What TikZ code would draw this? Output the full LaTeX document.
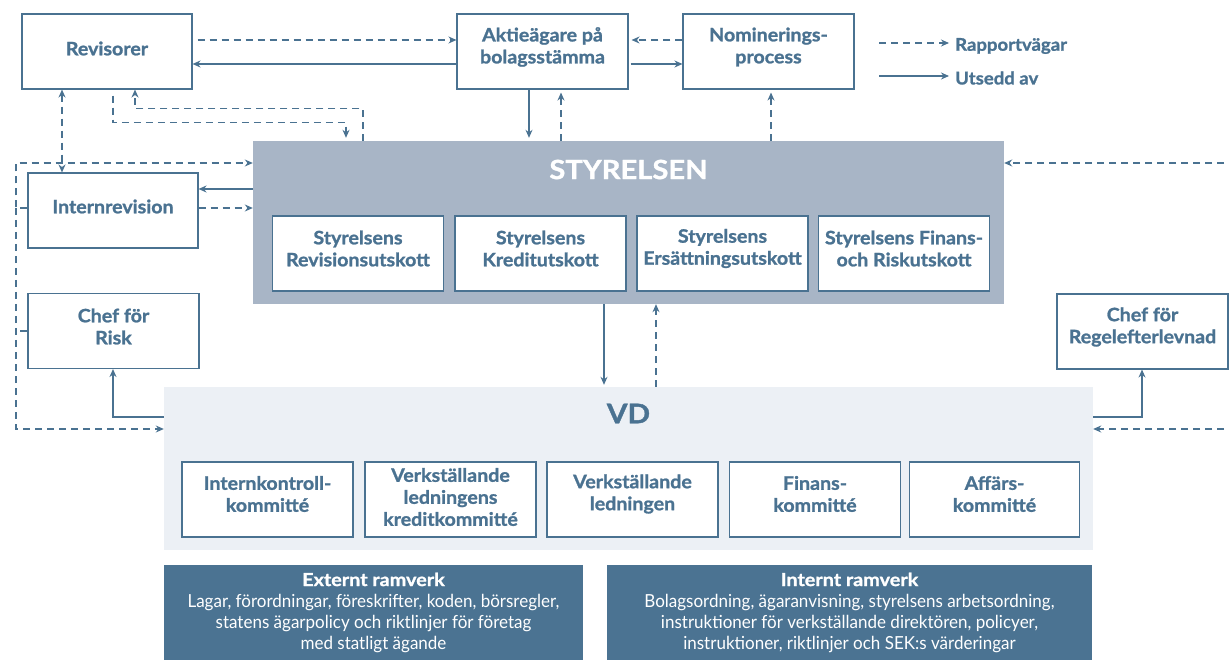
\documentclass[tikz,border=0pt]{standalone}
\usepackage{fontspec}
\setmainfont{Lato}[BoldFeatures={FakeBold=1.2}]
\newfontfamily\widefont{Lato}[FakeStretch=1.06, BoldFeatures={FakeBold=1.2}]
\newfontfamily\titlefont{Lato}[FakeStretch=1.1, BoldFeatures={FakeBold=1.2}]
\newfontfamily\narrowfont{Lato}[FakeStretch=0.945]
\usetikzlibrary{arrows.meta}

\definecolor{ink}{HTML}{4A7291}
\definecolor{boardfill}{HTML}{A8B5C6}
\definecolor{ceofill}{HTML}{ECF0F5}
\definecolor{frameworkfill}{HTML}{4B7392}

\tikzset{
  box/.style={draw=ink, line width=1.1pt, fill=white, minimum width=171pt,
    minimum height=75pt, inner sep=0pt},
  boxtext/.style={align=center, text=ink, inner sep=0pt,
    font=\widefont\bfseries\fontsize{18.5}{22}\selectfont},
  rep/.style={draw=ink, line width=1.1pt, dash pattern=on 7pt off 5pt,
    -{Stealth[length=8pt,width=7pt]}},
  apt/.style={draw=ink, line width=1.1pt, -{Stealth[length=8pt,width=7pt]}},
  bus/.style={draw=ink, line width=1.1pt, dash pattern=on 7pt off 5pt},
  legtext/.style={anchor=west, text=ink, inner sep=0pt,
    font=\widefont\bfseries\fontsize{17.5}{20}\selectfont},
  frame/.style={fill=frameworkfill, text=white, align=center, inner sep=0pt,
    font=\narrowfont\fontsize{18}{21}\selectfont},
}

% a framed box with its text set slightly above the middle
\newcommand\textbox[5][]{%
  \node[box,#1] (#2) at (#3) {};
  \node[boxtext] (#2-text) at ([yshift=#4]#2.center) {#5};}

\begin{document}
\begin{tikzpicture}[x=1pt,y=-1pt]
\useasboundingbox (0,0) rectangle (1229,660);

% top row
\textbox[minimum width=170pt]{rev}{107,51.5}{3pt}{Revisorer}
\textbox{akt}{542.5,51.5}{4.5pt}{Aktieägare på\\bolagsstämma}
\textbox{nom}{768.5,51.5}{4.5pt}{Nominerings-\\process}

% board
\node[fill=boardfill, minimum width=751pt, minimum height=163pt, inner sep=0pt] (sty) at (628.5,222.5) {};
\node[text=white, inner sep=0pt, font=\titlefont\bfseries\fontsize{26.5}{30}\selectfont] (stytitle) at (628.5,169.5) {STYRELSEN};
\textbox{ru}{358,253.5}{5pt}{Styrelsens\\Revisionsutskott}
\textbox{ku}{540.5,253.5}{5pt}{Styrelsens\\Kreditutskott}
\textbox{eu}{722.5,253.5}{5pt}{Styrelsens\\Ersättningsutskott}
\textbox{fu}{904,253.5}{5pt}{Styrelsens Finans-\\och Riskutskott}

% side boxes
\textbox[minimum width=170pt]{int}{113,210.5}{4pt}{Internrevision}
\textbox{risk}{113.5,331}{4.5pt}{Chef för\\Risk}
\textbox{regel}{1142.5,331.5}{4.5pt}{Chef för\\Regelefterlevnad}

% CEO
\node[fill=ceofill, minimum width=929pt, minimum height=163pt, inner sep=0pt] (vd) at (628.5,468.5) {};
\node[text=ink, inner sep=0pt, font=\titlefont\bfseries\fontsize{27}{30}\selectfont] (vdtitle) at (628.5,413.5) {VD};
\textbox{ikk}{267.5,499.5}{5.5pt}{Internkontroll-\\kommitté}
\textbox{vlk}{450.5,499.5}{2.5pt}{Verkställande\\ledningens\\kreditkommitté}
\textbox{vl}{632.5,499.5}{5.5pt}{Verkställande\\ledningen}
\textbox{fk}{815,499.5}{5.5pt}{Finans-\\kommitté}
\textbox[minimum width=170pt]{ak}{994.5,499.5}{5.5pt}{Affärs-\\kommitté}

% frameworks
\node[frame, minimum width=419pt, minimum height=95pt] (ext) at (373.5,612.5) {%
  {\titlefont\bfseries\fontsize{18}{21}\selectfont Externt ramverk}\\
  Lagar, förordningar, föreskrifter, koden, börsregler,\\
  statens ägarpolicy och riktlinjer för företag\\
  med statligt ägande};
\node[frame, minimum width=485pt, minimum height=95pt] (intr) at (849.5,612.5) {%
  {\titlefont\bfseries\fontsize{18}{21}\selectfont Internt ramverk}\\
  Bolagsordning, ägaranvisning, styrelsens arbetsordning,\\
  instruktioner för verkställande direktören, policyer,\\
  instruktioner, riktlinjer och SEK:s värderingar};

% legend
\node[legtext] (lrep) at (955,46) {Rapportvägar};
\node[legtext] (lutse) at (955,78) {Utsedd av};
\coordinate (lrep0) at (879,43);
\coordinate (lutse0) at (879,76);
\draw[rep] (lrep0) -- ([xshift=-6pt]lrep.west |- lrep0);
\draw[apt] (lutse0) -- ([xshift=-6pt]lutse.west |- lutse0);

% top row connectors
\draw[rep] ([xshift=5pt]rev.east |- 0,40) -- (akt.west |- 0,40);
\draw[apt] (akt.west |- 0,64) -- (rev.east |- 0,64);
\draw[rep] (nom.west |- 0,40) -- ([xshift=3pt]akt.east |- 0,40);
\draw[apt] ([xshift=2pt]akt.east |- 0,64) -- (nom.west |- 0,64);
\draw[apt, shorten >=3pt] (akt.south -| 529,0) -- (sty.north -| 529,0);
\draw[rep, shorten >=3pt] (sty.north -| 561,0) -- (akt.south -| 561,0);
\draw[rep, shorten >=3pt] (sty.north -| 771,0) -- (nom.south -| 771,0);

% auditors
\draw[rep, {Stealth[length=8pt,width=7pt]}-{Stealth[length=8pt,width=7pt]}] (rev.south -| 62,0) -- (int.north -| 62,0);
\draw[rep, shorten >=3pt] ([yshift=-6pt]rev.south -| 113,0) |- ([yshift=18pt]sty.north -| 346,0) -- (sty.north -| 346,0);
\draw[rep] (sty.north -| 363,0) |- ([yshift=-19pt]rev.south -| 135,0) -- (rev.south -| 135,0);

% internal audit
\draw[apt] (sty.west |- 0,189) -- (int.east |- 0,189);
\draw[rep] (int.east |- 0,208) -- (sty.west |- 0,208);

% left reporting bus
\coordinate (lbus) at (16,208);
\draw[rep] (int.west |- lbus) -- (lbus) |- (sty.west |- 0,163);
\draw[rep] (lbus) |- (vd.west |- 0,429);
\draw[bus] (risk.west |- 0,331) -- (lbus |- 0,331);

% right reporting bus
\coordinate (rbus) at (1236,331.5);
\draw[bus] (regel.east) -- (rbus);
\draw[rep] (rbus |- 0,163) -- (sty.east |- 0,163);
\draw[rep] (rbus |- 0,429) -- (vd.east |- 0,429);

% CEO appointments
\draw[apt] (vd.west |- 0,417) -| (risk.south -| 113,0);
\draw[apt] (vd.east |- 0,417) -| (regel.south -| 1142,0);

% board <-> CEO
\draw[apt, shorten >=2pt] (sty.south -| 604,0) -- (vd.north -| 604,0);
\draw[rep] (vd.north -| 656,0) -- (sty.south -| 656,0);
\end{tikzpicture}
\end{document}
